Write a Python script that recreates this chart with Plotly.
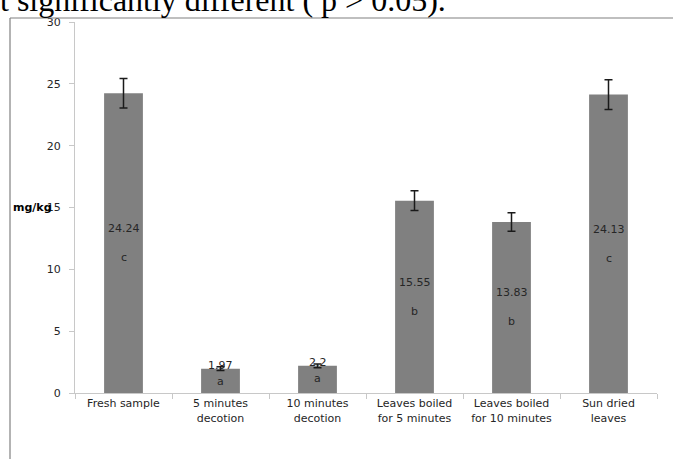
import plotly.graph_objects as go

categories = ["Fresh sample", "5 minutes<br>decotion", "10 minutes<br>decotion",
              "Leaves boiled<br>for 5 minutes", "Leaves boiled<br>for 10 minutes", "Sun dried<br>leaves"]
values = [24.24, 1.97, 2.2, 15.55, 13.83, 24.13]
value_labels = ["24.24", "1.97", "2.2", "15.55", "13.83", "24.13"]
errors = [1.2, 0.15, 0.15, 0.8, 0.75, 1.2]
letters = ["c", "a", "a", "b", "b", "c"]
y_ticks = [0, 5, 10, 15, 20, 25, 30]

FONT = "DejaVu Sans"
TXT = "#262626"

fig = go.Figure()
fig.add_trace(go.Bar(
    x=categories, y=values,
    marker=dict(color="#808080", line=dict(width=0)),
    error_y=dict(type="data", array=errors, color="#1a1a1a", thickness=1.5, width=4),
    hoverinfo="skip",
))

annotations = []
for c, v, lab, let in zip(categories, values, value_labels, letters):
    if v > 5:
        annotations.append(dict(x=c, y=v / 2, text=lab, showarrow=False, yshift=14.5,
                                font=dict(family=FONT, size=11, color=TXT)))
        annotations.append(dict(x=c, y=v / 2, text=let, showarrow=False, yshift=-14.5,
                                font=dict(family=FONT, size=11, color=TXT)))
    else:
        annotations.append(dict(x=c, y=v, text=lab, showarrow=False, yshift=3,
                                font=dict(family=FONT, size=11, color=TXT)))
        annotations.append(dict(x=c, y=v, text=let, showarrow=False, yshift=-13,
                                font=dict(family=FONT, size=11, color=TXT)))

# y-axis title
annotations.append(dict(xref="paper", yref="paper", x=(54 - 75) / 582, y=(393 - 207) / 371,
                        xanchor="right", yanchor="middle", text="<b>mg/kg</b>", showarrow=False,
                        font=dict(family=FONT, size=11, color="#000000")))
# cut document text at top
annotations.append(dict(xref="paper", yref="paper", x=(-2 - 75) / 582, y=(393 - 20) / 371,
                        xanchor="left", yanchor="bottom", text="t significantly different ( p > 0.05).",
                        showarrow=False, font=dict(family="Liberation Serif", size=32, color="#000000")))

top_px = 18
shapes = [
    dict(type="line", xref="paper", yref="paper", x0=(10 - 75) / 582, x1=1.2,
         y0=(393 - top_px) / 371, y1=(393 - top_px) / 371, line=dict(color="#808080", width=1.2)),
    dict(type="line", xref="paper", yref="paper", x0=(10 - 75) / 582, x1=(10 - 75) / 582,
         y0=(393 - top_px) / 371, y1=-0.3, line=dict(color="#808080", width=1.2)),
]

fig.update_layout(
    width=673, height=459,
    margin=dict(l=75, r=16, t=22, b=66),
    plot_bgcolor="white", paper_bgcolor="white",
    showlegend=False, bargap=0.6,
    font=dict(family=FONT, size=11, color=TXT),
    annotations=annotations, shapes=shapes,
    xaxis=dict(showline=True, linecolor="#c8c8c8", linewidth=1, ticks="outside",
               tickson="boundaries", ticklen=5, tickcolor="#c8c8c8",
               tickfont=dict(family=FONT, size=11, color=TXT), showgrid=False,
               range=[-0.5, 5.5]),
    yaxis=dict(range=[0, 30], tickvals=y_ticks, showline=True, linecolor="#c8c8c8",
               linewidth=1, ticks="outside", ticklen=5, tickcolor="#c8c8c8",
               tickfont=dict(family=FONT, size=11, color=TXT), showgrid=False,
               zeroline=False, ticklabelstandoff=6),
)

fig.write_html("out.html", config={"displayModeBar": False},
               post_script="document.body.style.margin='0';")
